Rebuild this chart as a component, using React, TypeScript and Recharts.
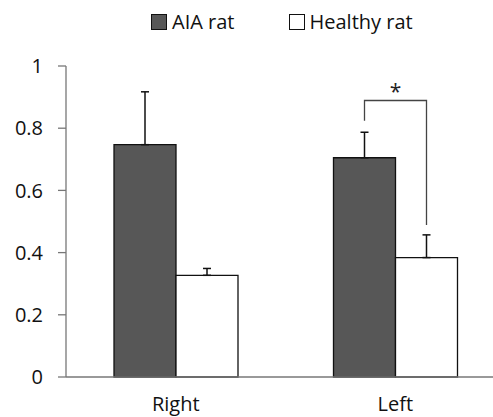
import { BarChart, Bar, XAxis, YAxis, Legend, ErrorBar } from 'recharts'

// ─── Data ─────────────────────────────────────────────────────────────────────

const categories = ['Right', 'Left']
const aiaValues = [0.747, 0.705]
const aiaErrors = [0.17, 0.082]
const healthyValues = [0.327, 0.384]
const healthyErrors = [0.022, 0.073]
const yTicks = [0, 0.2, 0.4, 0.6, 0.8, 1]

// significance bracket on "Left": top, left leg end, right leg end (data units)
const bracketTop = 0.889
const bracketLeftEnd = 0.824
const bracketRightEnd = 0.489
const bracketIndex = 1

const data = categories.map((label, i) => ({
  label,
  aia: aiaValues[i],
  aiaErr: [0, aiaErrors[i]],
  healthy: healthyValues[i],
  healthyErr: [0, healthyErrors[i]],
}))

const FONT = "'Open Sans', 'Noto Sans', sans-serif"
const AXIS_COLOR = '#777777'
const AIA_FILL = '#575757'

function Bracket(props: any) {
  const { x, y, width, height, value, index } = props
  if (index !== bracketIndex) return null
  const base = y + height
  const ppu = height / value
  const leftX = x - width / 2
  const rightX = x + width / 2
  const top = base - bracketTop * ppu
  return (
    <g>
      <path
        d={`M${leftX},${base - bracketLeftEnd * ppu} L${leftX},${top} L${rightX},${top} L${rightX},${base - bracketRightEnd * ppu}`}
        fill="none"
        stroke="#444"
        strokeWidth={1.3}
      />
      <text x={(leftX + rightX) / 2} y={top - 2} textAnchor="middle" fontSize={21} fontFamily={FONT} fill="#222">
        *
      </text>
    </g>
  )
}

function LegendContent() {
  const item = (fill: string, text: string) => (
    <div style={{ display: 'flex', alignItems: 'center', gap: 5 }}>
      <div style={{ width: 14, height: 14, background: fill, border: '1px solid #111' }} />
      <span>{text}</span>
    </div>
  )
  return (
    <div style={{ display: 'flex', gap: 54, fontFamily: FONT, fontSize: 20, color: '#111', lineHeight: '24px' }}>
      {item(AIA_FILL, 'AIA rat')}
      {item('#ffffff', 'Healthy rat')}
    </div>
  )
}

export default function App() {
  return (
    <div style={{ position: 'absolute', left: 0, top: 0, width: 493, height: 417, overflow: 'hidden', background: '#fff' }}>
      <BarChart
        width={505}
        height={417}
        data={data}
        margin={{ top: 42, right: 0, bottom: 0, left: 0 }}
        barGap={0}
        barSize={62}
      >
        <Legend
          verticalAlign="top"
          content={<LegendContent />}
          wrapperStyle={{ left: 151, top: 10, width: 330, height: 24 }}
        />
        <XAxis
          dataKey="label"
          tickLine={false}
          axisLine={{ stroke: AXIS_COLOR, strokeWidth: 1.3 }}
          tick={{ fill: '#111', fontSize: 20, fontFamily: FONT }}
          tickMargin={14}
          height={40}
        />
        <YAxis
          domain={[0, 1]}
          ticks={yTicks}
          interval={0}
          width={66}
          tickSize={8}
          tickMargin={15}
          tickLine={{ stroke: AXIS_COLOR, strokeWidth: 1.3 }}
          axisLine={{ stroke: AXIS_COLOR, strokeWidth: 1.3 }}
          tick={{ fill: '#111', fontSize: 20, fontFamily: FONT }}
        />
        <Bar dataKey="aia" fill={AIA_FILL} stroke="#111" strokeWidth={1.3} isAnimationActive={false}>
          <ErrorBar dataKey="aiaErr" direction="y" width={4} stroke="#111" strokeWidth={1.5} />
        </Bar>
        <Bar dataKey="healthy" fill="#ffffff" stroke="#111" strokeWidth={1.3} isAnimationActive={false} label={<Bracket />}>
          <ErrorBar dataKey="healthyErr" direction="y" width={4} stroke="#111" strokeWidth={1.5} />
        </Bar>
      </BarChart>
    </div>
  )
}
